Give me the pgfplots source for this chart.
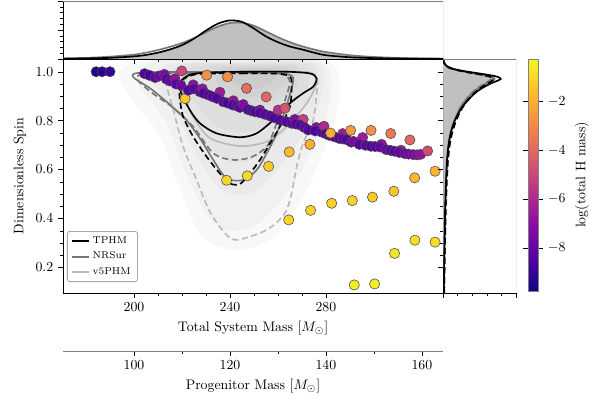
\documentclass[border=0pt]{standalone}
\usepackage{fontspec}
\usepackage{pgfplots}
\pgfplotsset{compat=1.18}
\usepackage{pgfplotstable}

\definecolor{nrs}{HTML}{777777}
\definecolor{v5}{HTML}{BBBBBB}
\definecolor{fillg}{HTML}{C0C0C0}

\pgfplotstableread{
x y c
184.2 1.000 -9.5
186.7 1.000 -9.3
190.0 1.000 -9.0
204.4 0.992 -8.4
206.5 0.985 -8.6
208.8 0.976 -8.2
210.4 0.982 -7.8
212.6 0.989 -7.3
213.5 0.970 -8.4
215.0 0.962 -8.0
217.1 0.971 -6.8
217.5 0.950 -8.3
219.9 1.003 -5.0
219.6 0.944 -7.6
221.3 0.890 -1.4
224.7 0.946 -7.0
222.6 0.924 -8.5
225.0 0.930 -8.3
227.5 0.918 -8.4
228.5 0.930 -6.8
229.0 0.912 -8.6
231.0 0.905 -8.2
232.7 0.898 -8.4
235.8 0.916 -6.5
234.5 0.891 -8.5
237.2 0.877 -8.3
239.0 0.872 -8.6
241.4 0.881 -6.8
241.1 0.864 -8.5
242.8 0.860 -8.2
244.2 0.854 -8.3
245.5 0.866 -7.2
247.5 0.845 -8.5
249.0 0.840 -8.2
250.5 0.836 -8.4
252.5 0.843 -7.0
252.5 0.832 -8.5
254.5 0.826 -8.3
256.7 0.819 -8.2
258.5 0.812 -8.5
260.1 0.843 -5.8
260.8 0.802 -8.4
263.5 0.796 -8.3
265.7 0.789 -8.2
267.0 0.805 -7.2
267.5 0.786 -8.5
270.5 0.805 -5.2
269.2 0.782 -8.4
271.0 0.772 -8.2
272.6 0.762 -8.4
276.0 0.772 -7.0
275.5 0.758 -8.5
278.2 0.753 -8.3
279.2 0.777 -6.0
280.0 0.746 -8.4
281.4 0.740 -8.0
283.5 0.734 -8.5
287.0 0.747 -6.5
285.5 0.727 -8.3
287.0 0.725 -8.2
288.6 0.722 -8.5
290.5 0.712 -8.3
291.5 0.715 -7.5
295.3 0.731 -6.5
293.9 0.703 -8.4
296.5 0.699 -8.2
298.8 0.695 -8.6
300.5 0.694 -8.3
303.2 0.703 -6.8
302.5 0.692 -8.0
305.0 0.682 -7.8
307.0 0.678 -8.4
311.3 0.679 -6.5
308.5 0.675 -8.2
310.5 0.670 -8.0
312.9 0.665 -7.9
314.5 0.663 -7.6
316.4 0.661 -7.5
318.0 0.660 -7.2
319.5 0.662 -6.8
322.4 0.676 -4.8
230.3 0.986 -2.7
239.0 0.979 -2.8
246.9 0.932 -3.8
255.1 0.897 -4.0
262.9 0.851 -4.6
281.9 0.749 -2.0
290.3 0.760 -2.5
298.8 0.760 -2.8
307.0 0.747 -3.5
315.0 0.721 -4.0
238.6 0.556 -1.0
247.2 0.574 -1.0
256.1 0.613 -1.3
264.7 0.672 -1.7
273.3 0.703 -2.0
264.5 0.394 -1.1
273.6 0.433 -1.2
282.4 0.462 -1.2
291.0 0.473 -1.2
299.4 0.487 -1.3
308.3 0.511 -1.4
317.0 0.566 -1.7
325.5 0.593 -1.8
291.8 0.128 -0.5
300.3 0.132 -0.5
308.6 0.257 -0.7
317.1 0.311 -0.8
325.5 0.303 -0.9
}\points

\pgfplotstableread{
x tphm nrs v5
170 0.005 0.02 0.01
180 0.02 0.04 0.02
190 0.04 0.08 0.04
200 0.09 0.15 0.09
205 0.14 0.22 0.13
210 0.22 0.31 0.20
215 0.33 0.42 0.30
220 0.48 0.55 0.44
225 0.70 0.72 0.62
230 0.98 0.92 0.85
235 1.22 1.12 1.08
240 1.33 1.24 1.22
245 1.28 1.25 1.25
250 1.05 1.14 1.15
255 0.78 0.95 0.95
260 0.58 0.75 0.74
265 0.43 0.58 0.56
270 0.33 0.44 0.42
275 0.22 0.33 0.31
280 0.13 0.24 0.22
290 0.06 0.13 0.10
300 0.03 0.07 0.05
310 0.015 0.04 0.02
320 0.01 0.02 0.01
328.8 0.005 0.01 0.005
}\topmarg

\pgfplotstableread{
y ts td ns nd vs vd
0.095 0.10 0.15 0.12 0.15 0.08 0.20
0.20 0.15 0.20 0.17 0.20 0.12 0.25
0.30 0.20 0.26 0.22 0.27 0.16 0.32
0.40 0.26 0.33 0.28 0.35 0.22 0.40
0.50 0.35 0.42 0.38 0.45 0.30 0.50
0.60 0.48 0.58 0.50 0.60 0.42 0.65
0.65 0.58 0.70 0.62 0.72 0.52 0.78
0.70 0.75 0.90 0.80 0.90 0.66 0.95
0.75 1.05 1.25 1.10 1.20 0.95 1.25
0.80 1.60 1.80 1.60 1.70 1.40 1.75
0.85 2.50 2.60 2.30 2.40 2.10 2.40
0.88 3.30 3.30 3.00 3.00 2.80 3.00
0.91 4.30 4.20 3.90 3.80 3.80 3.80
0.93 5.20 5.00 4.70 4.60 4.70 4.50
0.95 6.40 6.00 5.80 5.60 5.90 5.40
0.96 7.20 6.60 6.50 6.20 6.60 6.00
0.97 7.90 6.90 7.00 6.60 7.10 6.40
0.98 7.40 6.40 6.60 6.30 6.80 6.10
0.99 5.60 4.80 5.00 4.80 5.20 4.70
1.00 3.40 2.90 3.00 2.90 3.20 2.80
1.01 1.60 1.40 1.50 1.40 1.60 1.30
1.02 0.70 0.60 0.60 0.60 0.70 0.55
1.03 0.30 0.25 0.25 0.25 0.30 0.25
1.04 0.10 0.10 0.10 0.10 0.10 0.10
1.052 0.03 0.03 0.03 0.03 0.03 0.03
}\rightmarg

\begin{document}
\begin{tikzpicture}
\useasboundingbox (0,0) rectangle (432bp,288bp);

% ---------------- main axis ----------------
\begin{axis}[
  at={(45.36bp,77.04bp)}, anchor=south west,
  scale only axis, width=273.6bp, height=168.48bp,
  xmin=170.4, xmax=328.8, ymin=0.095, ymax=1.052,
  axis x line*=box, axis y line*=left,
  xtick={200,240,280}, ytick={0.2,0.4,0.6,0.8,1.0},
  minor x tick num=3, minor y tick num=3,
  yticklabel style={/pgf/number format/fixed, /pgf/number format/fixed zerofill, /pgf/number format/precision=1},
  tick align=outside, major tick length=3.5bp, minor tick length=2bp,
  tick style={black},
  xlabel={Total System Mass [$M_\odot$]}, ylabel={Dimensionless Spin},
  colormap={plasma}{rgb255=(13,8,135) rgb255=(84,2,163) rgb255=(139,10,165) rgb255=(185,50,137) rgb255=(219,92,104) rgb255=(244,136,73) rgb255=(254,188,43) rgb255=(240,249,33)},
  point meta min=-9.77, point meta max=-0.25,
  colorbar,
  colorbar style={
    at={(1.2237,1)}, anchor=north west,
    width=7.2bp, height=167bp,
    ytick={-8,-6,-4,-2},
    ylabel={log(total H mass)},
    tick align=outside, major tick length=3.5bp,
    axis line style={gray},
    ytick style={black},
  },
  legend style={at={(0.0105,0.047)}, anchor=south west,
    font=\fontsize{7.2}{8}\selectfont\addfontfeatures{LetterSpace=20},
    draw=gray, rounded corners=2pt, fill=white, fill opacity=0.85, text opacity=1,
    row sep=0.5bp, inner xsep=3bp, inner ysep=2bp},
  legend cell align=left,
  legend image code/.code={\draw[#1] (0cm,0cm) -- (0.42cm,0cm);},
]
\addlegendimage{black, line width=1.4bp}
\addlegendentry{TPHM}
\addlegendimage{nrs, line width=1.4bp}
\addlegendentry{NRSur}
\addlegendimage{v5, line width=1.4bp}
\addlegendentry{v5PHM}

% density background (layered translucent regions)
\addplot[fill=black, fill opacity=0.026, draw=none, smooth, forget plot] coordinates {
(240,1.05) (280,1.045) (286,0.92) (281,0.72) (271,0.5) (259,0.33) (243,0.27) (228,0.33) (218,0.55) (210,0.75) (198,0.9) (194,1.0) (205,1.045) (240,1.05)};
\addplot[fill=black, fill opacity=0.026, draw=none, smooth, forget plot] coordinates {
(240,1.045) (278,1.04) (282,0.9) (276,0.72) (265,0.52) (252,0.38) (240,0.35) (230,0.42) (221,0.6) (213,0.8) (202,0.95) (208,1.04) (240,1.045)};
\addplot[fill=black, fill opacity=0.026, draw=none, smooth, forget plot] coordinates {
(240,1.04) (276,1.035) (278,0.9) (271,0.75) (260,0.6) (248,0.5) (236,0.52) (226,0.66) (218,0.82) (208,0.96) (214,1.03) (240,1.04)};
\addplot[fill=black, fill opacity=0.026, draw=none, smooth, forget plot] coordinates {
(245,1.035) (274,1.03) (275,0.92) (267,0.8) (256,0.68) (244,0.63) (232,0.68) (222,0.82) (214,0.96) (220,1.03) (245,1.035)};
\addplot[fill=black, fill opacity=0.028, draw=none, smooth, forget plot] coordinates {
(247,1.03) (271,1.025) (272,0.93) (262,0.83) (250,0.76) (238,0.76) (228,0.84) (221,0.96) (226,1.025) (247,1.03)};
\addplot[fill=black, fill opacity=0.028, draw=none, smooth, forget plot] coordinates {
(248,1.025) (268,1.02) (268,0.94) (258,0.87) (246,0.84) (234,0.87) (228,0.96) (232,1.02) (248,1.025)};
\addplot[fill=black, fill opacity=0.028, draw=none, smooth, forget plot] coordinates {
(249,1.02) (264,1.015) (263,0.95) (253,0.9) (242,0.9) (234,0.96) (238,1.015) (249,1.02)};
\addplot[fill=black, fill opacity=0.028, draw=none, smooth, forget plot] coordinates {
(249,1.01) (259,1.005) (257,0.95) (248,0.93) (240,0.96) (242,1.005) (249,1.01)};

% contours
\addplot[v5, line width=1.2bp, dash pattern=on 4.5bp off 2.5bp, smooth, tension=0.5, forget plot] coordinates {
(245,1.0) (262,1.0) (274.7,0.99) (276.5,0.96) (276.1,0.912) (274.7,0.802) (270.5,0.707) (267.8,0.611) (265.7,0.503) (262.9,0.421) (255.3,0.353) (242.4,0.312) (236.8,0.353) (231.3,0.434) (226,0.56) (220.5,0.693) (216.4,0.843) (213.6,0.939) (212.5,0.98) (220,0.995) (232,0.999) (245,1.0)};
\addplot[v5, line width=1.2bp, smooth, tension=0.5, forget plot] coordinates {
(255,1.004) (268,1.0) (274.7,0.993) (276.1,0.953) (272,0.871) (263.6,0.775) (255.3,0.714) (244.2,0.696) (231.7,0.728) (224.7,0.816) (220.5,0.912) (220.5,0.96) (225,0.99) (240,1.0) (255,1.004)};
\addplot[nrs, line width=1.2bp, dash pattern=on 4.5bp off 2.5bp, smooth, tension=0.5, forget plot] coordinates {
(240,0.994) (258,0.993) (263,0.985) (265,0.96) (263.5,0.9) (260.5,0.82) (258,0.75) (255.3,0.693) (249.3,0.652) (242.4,0.639) (236,0.65) (231.7,0.68) (224.7,0.775) (216,0.855) (208,0.91) (202,0.96) (202,0.985) (212,0.993) (225,0.994) (240,0.994)};
\addplot[nrs, line width=1.2bp, smooth, tension=0.5, forget plot] coordinates {
(240,0.998) (258,0.997) (264,0.99) (266.4,0.975) (265.5,0.925) (263,0.843) (259.5,0.748) (255.3,0.666) (251.1,0.598) (245.5,0.557) (238.6,0.564) (233,0.64) (228,0.72) (222,0.80) (215,0.865) (207,0.93) (200,0.975) (200.5,0.993) (210,0.998) (225,0.999) (240,0.998)};
\addplot[black, line width=1.2bp, dash pattern=on 4.5bp off 2.5bp, smooth, tension=0.5, forget plot] coordinates {
(245,0.993) (260,0.992) (265,0.98) (265.7,0.95) (265,0.857) (260.8,0.775) (256.7,0.707) (252.5,0.639) (248.3,0.584) (244.2,0.541) (240,0.543) (235.8,0.584) (230.3,0.652) (224.7,0.734) (220.5,0.816) (219,0.90) (219.5,0.96) (225,0.988) (235,0.993) (245,0.993)};
\addplot[black, line width=1.2bp, smooth, tension=0.5, forget plot] coordinates {
(250,1.0) (263.6,1.0) (273.3,0.993) (276.1,0.973) (274.7,0.939) (270.5,0.912) (265,0.871) (258,0.802) (251.1,0.748) (244.2,0.732) (234.4,0.748) (227.5,0.789) (223.3,0.843) (219.5,0.918) (219.5,0.96) (224,0.99) (235,0.998) (250,1.0)};

% scatter
\addplot[scatter, only marks, mark=*, mark size=3.7bp, point meta=explicit,
  scatter/use mapped color={draw=black!70, fill=mapped color},
  mark options={line width=0.4bp}, forget plot]
  table[x=x, y=y, meta=c] {\points};
\end{axis}

% ---------------- top marginal ----------------
\begin{axis}[
  at={(45.36bp,245.52bp)}, anchor=south west,
  scale only axis, width=273.6bp, height=41.76bp,
  xmin=170.4, xmax=328.8, ymin=0, ymax=2,
  axis x line*=bottom, axis y line*=left,
  xtick={200,240,280}, minor x tick num=3, xticklabels={},
  ytick={0,1,2}, minor y tick num=4, yticklabels={},
  tick align=outside, major tick length=3.5bp, minor tick length=2bp,
  tick style={black},
]
\addplot[fill=fillg, draw=none] table[x=x, y=v5] {\topmarg} \closedcycle;
\addplot[v5, line width=1.2bp, smooth] table[x=x, y=v5] {\topmarg};
\addplot[nrs, line width=1.2bp, smooth] table[x=x, y=nrs] {\topmarg};
\addplot[black, line width=1.2bp, smooth] table[x=x, y=tphm] {\topmarg};
\draw[gray] (rel axis cs:0,1) -- (rel axis cs:1,1) -- (rel axis cs:1,0);
\end{axis}

% ---------------- right marginal ----------------
\begin{axis}[
  at={(318.96bp,77.04bp)}, anchor=south west,
  scale only axis, width=52.56bp, height=168.48bp,
  xmin=0, xmax=10, ymin=0.095, ymax=1.052,
  axis x line*=bottom, axis y line*=left,
  y axis line style={gray},
  xtick={0,10}, minor x tick num=4, xticklabels={},
  ytick={0.2,0.4,0.6,0.8,1.0}, minor y tick num=3, yticklabels={},
  tick align=outside, major tick length=3.5bp, minor tick length=2bp,
  tick style={black},
]
\addplot[fill=fillg, draw=none] table[x=vs, y=y] {\rightmarg};
\addplot[v5, line width=1.2bp, smooth] table[x=vs, y=y] {\rightmarg};
\addplot[v5, line width=1.2bp, smooth, dash pattern=on 4.5bp off 2.5bp] table[x=vd, y=y] {\rightmarg};
\addplot[nrs, line width=1.2bp, smooth] table[x=ns, y=y] {\rightmarg};
\addplot[nrs, line width=1.2bp, smooth, dash pattern=on 4.5bp off 2.5bp] table[x=nd, y=y] {\rightmarg};
\addplot[black, line width=1.2bp, smooth, dash pattern=on 4.5bp off 2.5bp] table[x=td, y=y] {\rightmarg};
\addplot[black, line width=1.2bp, smooth] table[x=ts, y=y] {\rightmarg};
\draw[gray] (rel axis cs:0,1) -- (rel axis cs:1,1) -- (rel axis cs:1,0);
\end{axis}

% ---------------- progenitor axis ----------------
\begin{axis}[
  at={(45.36bp,35.28bp)}, anchor=south west,
  scale only axis, width=273.6bp, height=1bp,
  xmin=85.2, xmax=164.4, ymin=0, ymax=1,
  axis x line*=bottom, axis y line=none,
  x axis line style={gray},
  xtick={100,120,140,160}, minor x tick num=1,
  tick align=outside, major tick length=3.5bp, minor tick length=2bp,
  tick style={black},
  xlabel={Progenitor Mass [$M_\odot$]},
]
\end{axis}
\end{tikzpicture}
\end{document}
